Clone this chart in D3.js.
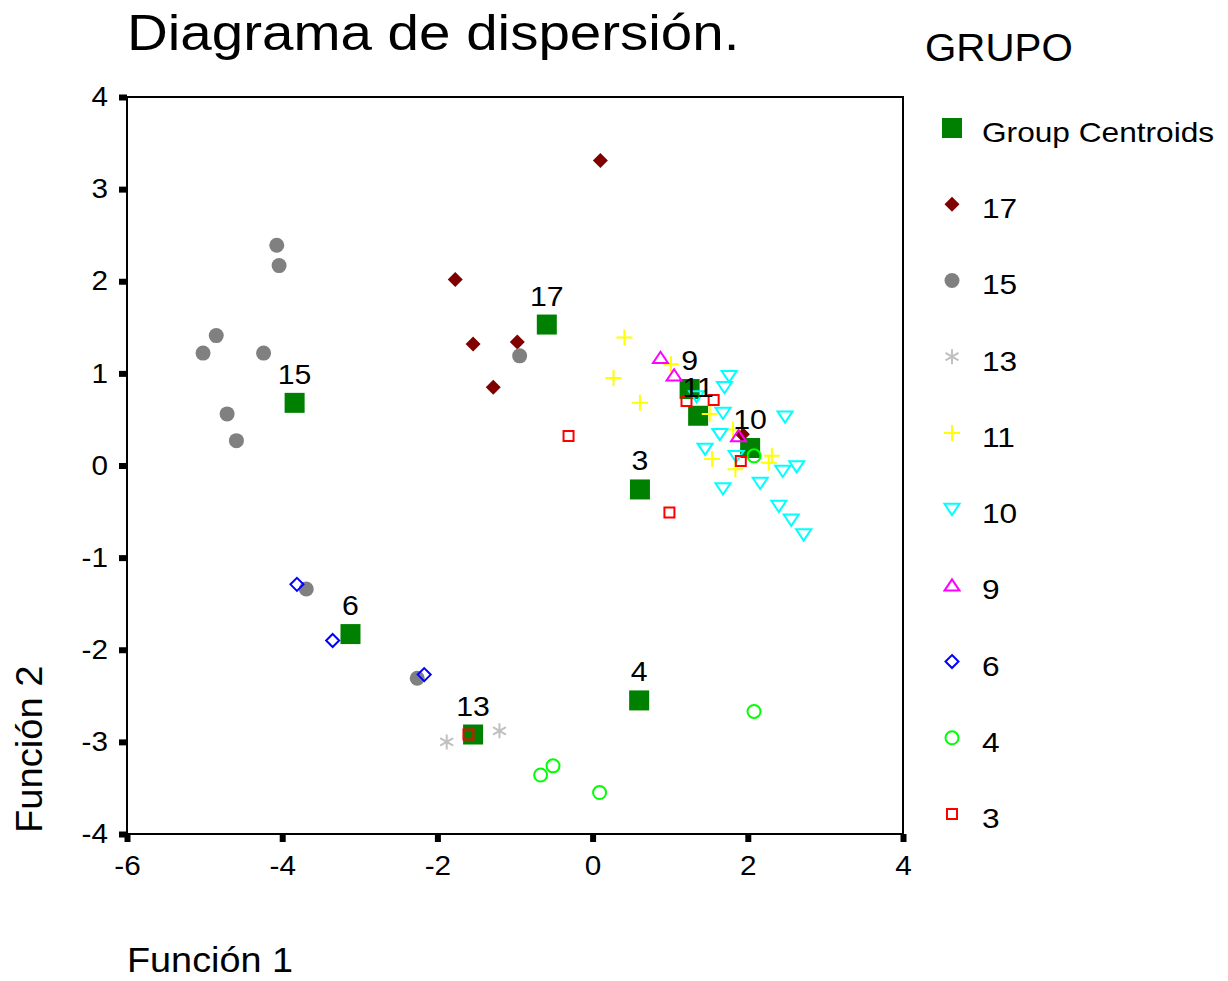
<!DOCTYPE html>
<html>
<head>
<meta charset="utf-8">
<script src="https://cdn.jsdelivr.net/npm/d3@7.9.0/dist/d3.min.js"></script>
<style>
  body { margin: 0; background: #fff; }
  svg { font-family: "Liberation Sans", Arial, sans-serif; }
  .tick text { font-size: 27px; fill: #000; }
  .tick line { stroke: #000; stroke-width: 6; }
</style>
</head>
<body>
<svg id="chart" width="1228" height="981"></svg>
<script>
// group order as in the legend
const groups = ['17', '15', '13', '11', '10', '9', '6', '4', '3'];
const groupColors = ['#800000', '#808080', '#c0c0c0', '#ffff00', '#00ffff', '#ff00ff', '#0000ff', '#00ff00', '#ff0000'];
const groupShapes = ['diamondFill', 'circleFill', 'asterisk', 'plus', 'triDown', 'triUp', 'diamond', 'circle', 'square'];

// centroids [group, f1, f2]
const centroids = [
  ['17', -0.59, 1.53], ['15', -3.84, 0.68], ['13', -1.54, -2.92],
  ['11', 1.36, 0.54], ['10', 2.03, 0.19], ['9', 1.25, 0.83],
  ['6', -3.12, -1.83], ['4', 0.60, -2.55], ['3', 0.61, -0.26]
];

// cases per group, [f1, f2]
const g17 = [[0.10, 3.31], [-1.77, 2.02], [-1.54, 1.32], [-0.97, 1.34], [-1.28, 0.85], [1.93, 0.34]];
const g15 = [[-4.07, 2.39], [-4.04, 2.17], [-4.85, 1.41], [-5.02, 1.22], [-4.24, 1.22], [-4.71, 0.56],
             [-4.59, 0.27], [-0.94, 1.19], [-3.69, -1.34], [-2.26, -2.31]];
const g13 = [[-1.88, -3.00], [-1.20, -2.88]];
const g11 = [[0.41, 1.39], [0.27, 0.95], [0.61, 0.68], [1.01, 1.10], [1.51, 0.56], [1.81, 0.39],
             [1.54, 0.07], [1.84, -0.04], [2.31, 0.105], [2.27, 0.03]];
const g10 = [[1.76, 0.97], [1.70, 0.85], [1.34, 0.75], [1.68, 0.57], [2.48, 0.53], [1.64, 0.34],
             [1.45, 0.18], [1.85, 0.10], [2.45, -0.06], [2.63, -0.01], [2.16, -0.19], [1.68, -0.25],
             [2.40, -0.44], [2.56, -0.59], [2.72, -0.75]];
const g9 = [[0.875, 1.17], [1.05, 0.98], [1.88, 0.32]];
const g6 = [[-3.81, -1.29], [-3.35, -1.90], [-2.17, -2.27]];
const g4 = [[-0.67, -3.36], [-0.51, -3.26], [0.09, -3.55], [2.08, -2.67], [2.08, 0.105]];
const g3 = [[-1.60, -2.92], [-0.31, 0.32], [0.99, -0.51], [1.21, 0.70], [1.56, 0.71], [1.91, 0.05]];
const groupCases = [g17, g15, g13, g11, g10, g9, g6, g4, g3];

const xTicks = [-6, -4, -2, 0, 2, 4];
const yTicks = [-4, -3, -2, -1, 0, 1, 2, 3, 4];

const svg = d3.select('#chart');
const plot = { left: 127, right: 903, top: 97, bottom: 834 };

const x = d3.scaleLinear().domain([-6, 4]).range([plot.left, plot.right]);
const y = d3.scaleLinear().domain([-4, 4]).range([plot.bottom, plot.top]);

// the original text is a bit wider than Arial
function stretch(sel, k) {
  sel.each(function () {
    const w = this.getComputedTextLength();
    d3.select(this).attr('textLength', w * k).attr('lengthAdjust', 'spacingAndGlyphs');
  });
}

// marker paths centred on 0,0
function shapePath(shape, s) {
  const h = s / 2;
  switch (shape) {
    case 'diamondFill':
    case 'diamond':
      return `M0,${-h}L${h},0L0,${h}L${-h},0Z`;
    case 'circleFill':
    case 'circle':
      return `M${h},0A${h},${h} 0 1,1 ${-h},0A${h},${h} 0 1,1 ${h},0Z`;
    case 'square':
      return `M${-h},${-h}H${h}V${h}H${-h}Z`;
    case 'triDown':
      return `M${-h},${-h * 0.7}H${h}L0,${h * 0.8}Z`;
    case 'triUp':
      return `M${-h},${h * 0.7}H${h}L0,${-h * 0.8}Z`;
    case 'plus':
      return `M${-h},0H${h}M0,${-h}V${h}`;
    case 'asterisk': {
      let p = '';
      [90, 30, 150].forEach(a => {
        const r = a * Math.PI / 180;
        const dx = Math.cos(r) * h, dy = Math.sin(r) * h;
        p += `M${-dx},${-dy}L${dx},${dy}`;
      });
      return p;
    }
  }
}
const shapeSize = { diamondFill: 15, circleFill: 15, asterisk: 15, plus: 16, triDown: 15, triUp: 15, diamond: 13, circle: 13, square: 10 };

function styleMarker(sel, shape, color) {
  const filled = shape === 'diamondFill' || shape === 'circleFill';
  sel.attr('d', shapePath(shape, shapeSize[shape]))
    .attr('fill', filled ? color : 'none')
    .attr('stroke', filled ? 'none' : color)
    .attr('stroke-width', 2);
}

// title
svg.append('text')
  .attr('x', 127).attr('y', 50)
  .attr('font-size', 50)
  .text('Diagrama de dispersión.')
  .call(stretch, 1.13);

// axes
svg.append('g')
  .attr('transform', `translate(0,${plot.bottom})`)
  .call(d3.axisBottom(x).tickValues(xTicks).tickSizeInner(8).tickSizeOuter(0).tickPadding(14).tickFormat(d => String(d)))
  .call(g => g.select('.domain').remove())
  .call(g => g.selectAll('.tick text').attr('font-family', null).attr('font-size', null).call(stretch, 1.1));

svg.append('g')
  .attr('transform', `translate(${plot.left},0)`)
  .call(d3.axisLeft(y).tickValues(yTicks).tickSizeInner(8).tickSizeOuter(0).tickPadding(11).tickFormat(d => String(d)))
  .call(g => g.select('.domain').remove())
  .call(g => g.selectAll('.tick text').attr('font-family', null).attr('font-size', null).call(stretch, 1.1));

svg.append('rect')
  .attr('x', plot.left).attr('y', plot.top)
  .attr('width', plot.right - plot.left).attr('height', plot.bottom - plot.top)
  .attr('fill', 'none').attr('stroke', '#000').attr('stroke-width', 2);

// axis titles
svg.append('text')
  .attr('x', 127).attr('y', 972)
  .attr('font-size', 35)
  .text('Función 1')
  .call(stretch, 1.08);

svg.append('text')
  .attr('transform', 'translate(42,833) rotate(-90)')
  .attr('font-size', 36)
  .text('Función 2')
  .call(stretch, 1.06);

// centroids
svg.append('g')
  .selectAll('rect')
  .data(centroids)
  .join('rect')
  .attr('x', d => x(d[1]) - 10)
  .attr('y', d => y(d[2]) - 10)
  .attr('width', 20).attr('height', 20)
  .attr('fill', '#008000');

// cases
groups.forEach((g, i) => {
  svg.append('g')
    .selectAll('path')
    .data(groupCases[i])
    .join('path')
    .attr('transform', d => `translate(${x(d[0])},${y(d[1])})`)
    .each(function () { styleMarker(d3.select(this), groupShapes[i], groupColors[i]); });
});

// centroid labels
svg.append('g')
  .selectAll('text')
  .data(centroids)
  .join('text')
  .attr('x', d => x(d[1]))
  .attr('y', d => y(d[2]) - 19)
  .attr('text-anchor', 'middle')
  .attr('font-size', 28)
  .text(d => d[0])
  .call(stretch, 1.08);

// legend
const legend = svg.append('g');
legend.append('text')
  .attr('x', 925).attr('y', 61)
  .attr('font-size', 38)
  .text('GRUPO')
  .call(stretch, 1.06);

const legendItems = ['Group Centroids'].concat(groups);
const legendY = d3.scalePoint().domain(legendItems).range([128, 814]);

legendItems.forEach((item, i) => {
  const cy = legendY(item);
  if (i === 0) {
    legend.append('rect')
      .attr('x', 942).attr('y', cy - 10)
      .attr('width', 20).attr('height', 20)
      .attr('fill', '#008000');
  } else {
    legend.append('path')
      .attr('transform', `translate(952,${cy})`)
      .call(sel => styleMarker(sel, groupShapes[i - 1], groupColors[i - 1]));
  }
  legend.append('text')
    .attr('x', 982).attr('y', cy + 14)
    .attr('font-size', 28)
    .text(item)
    .call(stretch, 1.13);
});
</script>
</body>
</html>
